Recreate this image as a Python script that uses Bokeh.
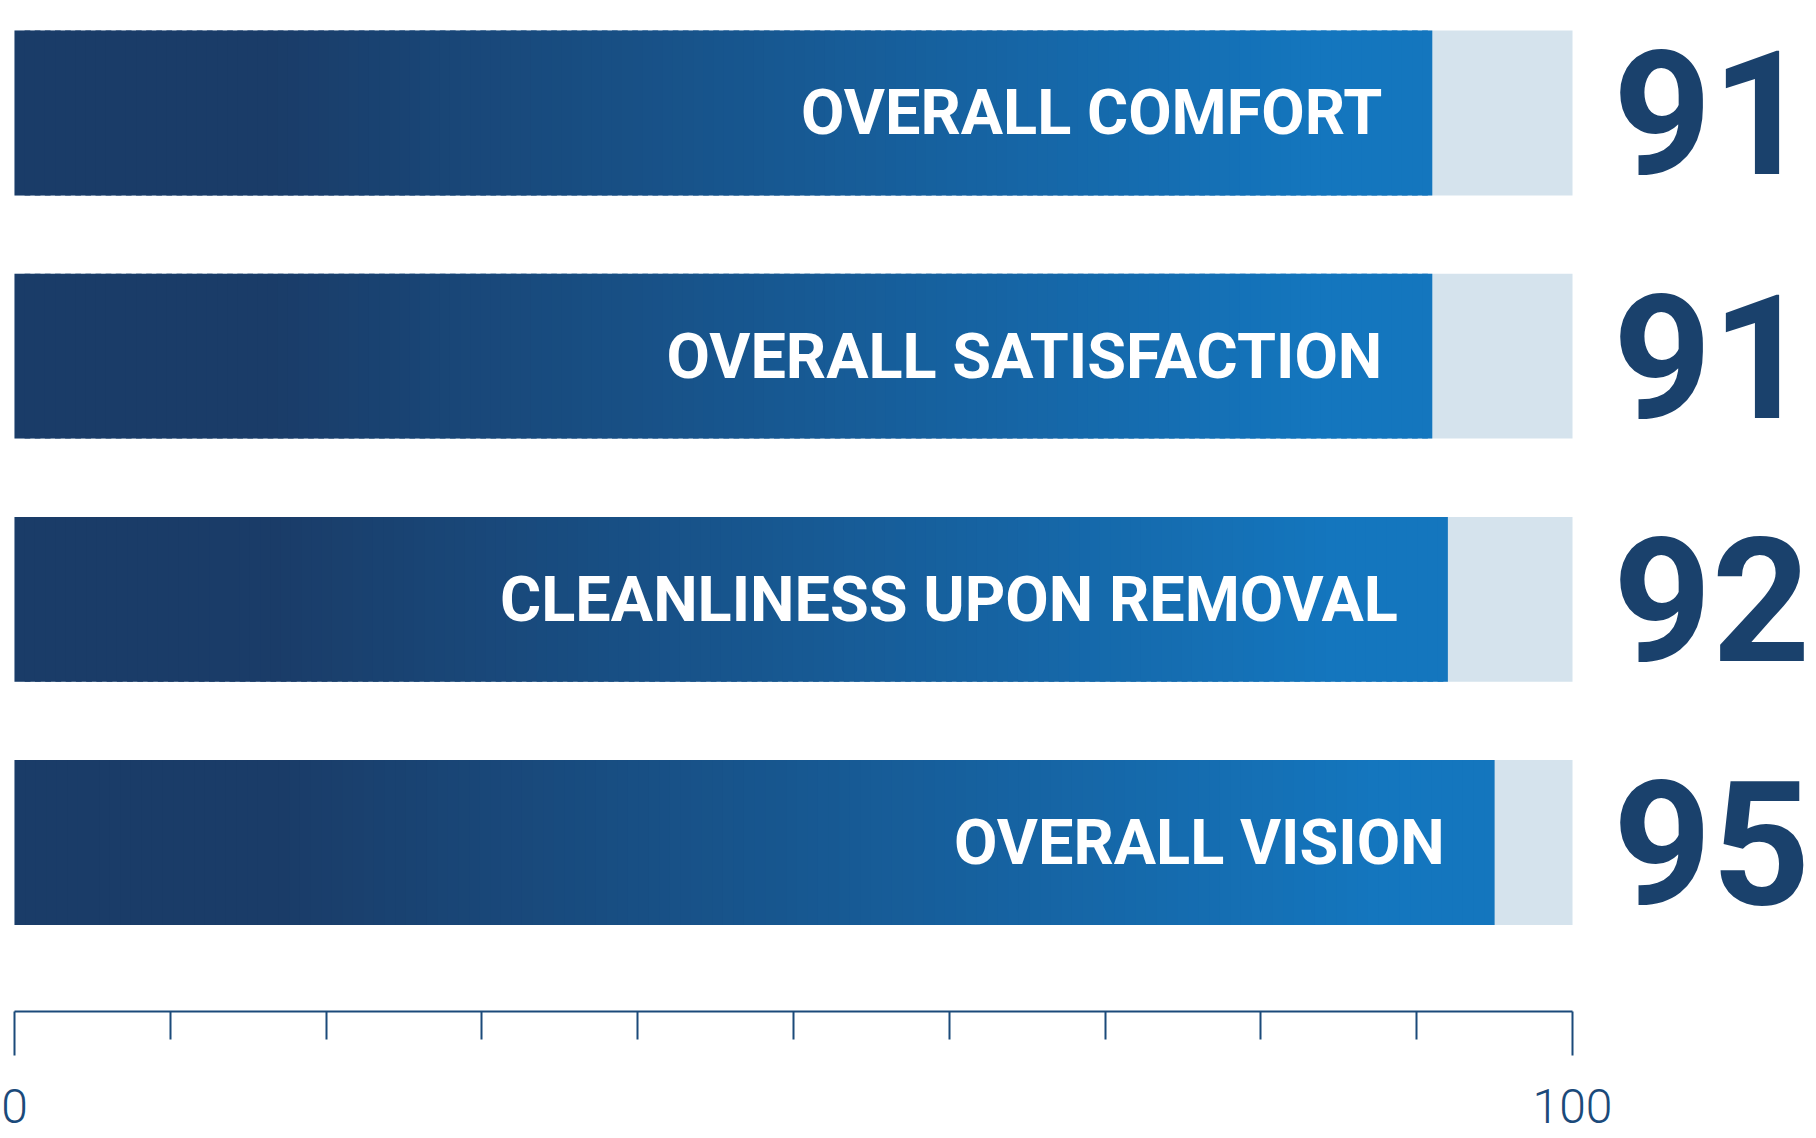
import numpy as np
from bokeh.plotting import figure
from bokeh.models import Range1d, FixedTicker, ColumnDataSource
from bokeh.core.properties import value
from bokeh.embed import file_html
from bokeh.resources import INLINE

# ---- data ----
categories = ["OVERALL COMFORT", "OVERALL SATISFACTION", "CLEANLINESS UPON REMOVAL", "OVERALL VISION"]
scores = [91, 91, 92, 95]
axis_max = 100
major_ticks = [0, 100]
minor_ticks = [10, 20, 30, 40, 50, 60, 70, 80, 90]
tick_labels = {0: "0", 100: "100"}

positions = list(range(len(categories)))

DARK = np.array([0x1a, 0x3c, 0x68], dtype=float)
BRIGHT = np.array([0x14, 0x76, 0xbe], dtype=float)
TRACK = "#d5e3ed"
NAVY = "#1a416c"
AXIS = "#1b4a7a"
BAR_H = 0.678

p = figure(frame_width=1816, frame_height=1011, output_backend="svg", toolbar_location=None,
           x_range=Range1d(-0.8986, 115.66), y_range=Range1d(3.695, -0.4626),
           min_border_left=0, min_border_right=0, min_border_top=0, min_border_bottom=127,
           y_axis_location=None, background_fill_color="white", border_fill_color="white")
p.grid.visible = False
p.outline_line_color = None

# tracks
p.hbar(y=positions, left=0, right=axis_max, height=BAR_H, fill_color=TRACK, line_color=None)

# gradient bars built from thin slices of each score
L, R, Y, C = [], [], [], []
n = 140
for pos, v in zip(positions, scores):
    edges = np.linspace(0, v, n + 1)
    for k in range(n):
        t = (edges[k] + edges[k + 1]) / 2 / v
        s = min(max((t - 0.18) / 0.74, 0.0), 1.0)
        c = DARK + s * (BRIGHT - DARK)
        L.append(edges[k])
        R.append(min(edges[k + 1] + v * 0.004, v))
        Y.append(pos)
        C.append("#%02x%02x%02x" % tuple(int(round(x)) for x in c))
src = ColumnDataSource(dict(left=L, right=R, y=Y, color=C))
p.hbar(y="y", left="left", right="right", height=BAR_H, fill_color="color", line_color=None, source=src)

# labels inside bars
p.text(x=scores, y=positions, text=categories, text_align="right", text_baseline="alphabetic",
       x_offset=-50, y_offset=0, text_color="white", text_font=value("Roboto"),
       text_font_style="bold", text_font_size="63px")

# big numbers on the right
p.text(x=[102.6] * len(scores), y=positions, text=[str(s) for s in scores], text_align="left",
       text_baseline="alphabetic", y_offset=0, text_color=NAVY, text_font=value("Roboto"),
       text_font_style="bold", text_font_size="172px")

ax = p.xaxis[0]
ax.ticker = FixedTicker(ticks=major_ticks, minor_ticks=minor_ticks)
ax.bounds = (0, axis_max)
ax.major_label_overrides = tick_labels
ax.axis_line_color = AXIS
ax.axis_line_width = 2
ax.major_tick_line_color = AXIS
ax.major_tick_line_width = 2
ax.minor_tick_line_color = AXIS
ax.minor_tick_line_width = 2
ax.major_tick_in = 0
ax.major_tick_out = 44
ax.minor_tick_in = 0
ax.minor_tick_out = 28
ax.major_label_standoff = 33
ax.major_label_text_font = "Roboto Light"
ax.major_label_text_font_size = "48px"
ax.major_label_text_color = AXIS

open("out.html", "w").write(file_html(p, INLINE))
